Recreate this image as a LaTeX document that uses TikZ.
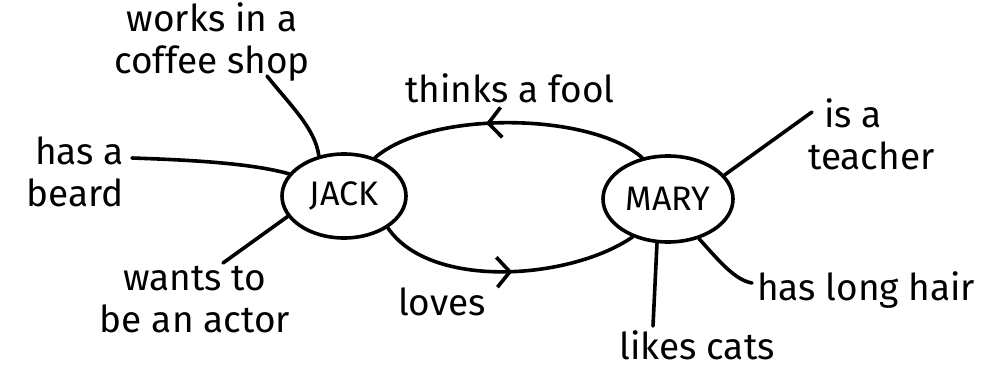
\documentclass[tikz,border=0pt]{standalone}
\usepackage{fontspec}
\setmainfont{Fira Sans}
\usetikzlibrary{shapes.geometric,arrows.meta,decorations.markings}

\tikzset{
  ink/.style={line width=3.6pt, line cap=round, line join=round},
  person/.style={ellipse, draw, ink, minimum width=124pt, minimum height=84pt,
    inner sep=0pt, font=\fontsize{34}{34}\selectfont},
  note/.style={inner sep=0pt, align=center, font=\fontsize{37}{42}\selectfont},
  relation/.style={ink, postaction={decorate}, decoration={markings,
    mark=at position #1 with {\arrow[ink]{Straight Barb[length=13pt,width=30pt]}}}}
}

\begin{document}
\begin{tikzpicture}[x=1pt,y=-1pt]
  \useasboundingbox (0,0) rectangle (995,372);

  % the two people
  \node[person] (jack) at (344,196) {JACK};
  \node[person, minimum width=130pt, minimum height=86pt] (mary) at (668,199) {MARY};

  % relations between them
  \node[note] (fool)  at (510,88)  {thinks a fool};
  \node[note] (loves) at (442,302) {loves};
  \draw[relation=0.58] (mary.122) .. controls (590,112) and (430,110) .. (jack.51);
  \draw[relation=0.52] (jack.-36) .. controls (430,290) and (570,280) .. (mary.227);

  % facts about Jack
  \node[note] (coffee) at (212,42) {works in a\\coffee shop};
  \node[note, align=right, anchor=east] (beard) at (124,172) {has a\\beard};
  \node[note] (actor) at (195,300) {wants to\\be an actor};
  \coordinate (coffeeend) at (267,76);
  \coordinate (beardend) at (132,158);
  \coordinate (actorend) at (223,263);
  \draw[ink] (coffeeend) .. controls (290,105) and (315,128) .. (jack.122);
  \draw[ink] (beardend) .. controls (190,160) and (250,163) .. (jack.158);
  \draw[ink] (actorend) -- (jack.200);

  % facts about Mary
  \node[note, align=left, anchor=west] (teacher) at (808,134) {\hspace*{16pt}is a\\teacher};
  \node[note, anchor=west] (hair) at (757,290) {has long hair};
  \node[note] (cats) at (697,345) {likes cats};
  \coordinate (teacherend) at (812,112);
  \coordinate (hairend) at (752,283);
  \coordinate (catsend) at (653,326);
  \draw[ink] (mary.23) -- (teacherend);
  \draw[ink] (mary.-52) .. controls (720,262) and (735,280) .. (hairend);
  \draw[ink] (mary.256) -- (catsend);
\end{tikzpicture}
\end{document}
